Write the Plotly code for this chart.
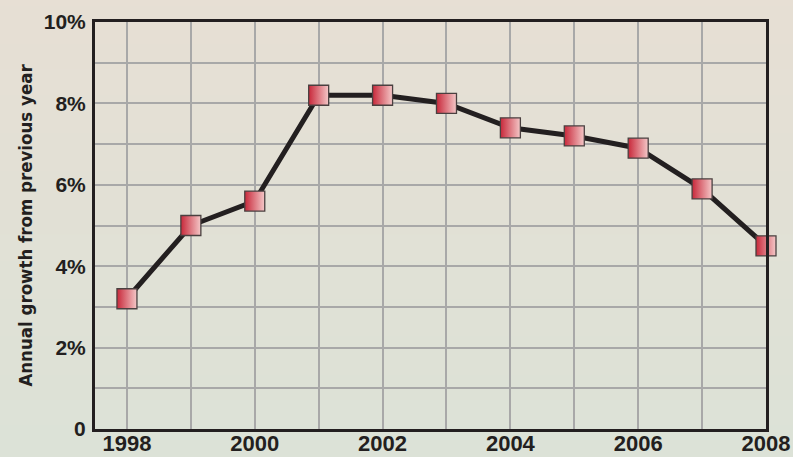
import plotly.graph_objects as go

years = [1998, 1999, 2000, 2001, 2002, 2003, 2004, 2005, 2006, 2007, 2008]
growth = [3.2, 5.0, 5.6, 8.2, 8.2, 8.0, 7.4, 7.2, 6.9, 5.9, 4.5]
y_tick_vals = [0, 1, 2, 3, 4, 5, 6, 7, 8, 9, 10]
y_tick_text = ["0", "", "2%", "", "4%", "", "6%", "", "8%", "", "10%"]
x_tick_vals = years
x_tick_text = ["1998", "", "2000", "", "2002", "", "2004", "", "2006", "", "2008"]

TICK_FONT = "Liberation Sans, Arial, sans-serif"
TITLE_FONT = "DejaVu Sans Condensed, Liberation Sans Narrow, sans-serif"

fig = go.Figure()
fig.add_trace(go.Scatter(
    x=years, y=growth, mode="lines+markers",
    line=dict(color="#231f20", width=5),
    marker=dict(symbol="square", size=20, color="#c8283a",
                gradient=dict(type="horizontal", color="#f4c8c8"),
                line=dict(color="#4a4040", width=1.3)),
    showlegend=False, hoverinfo="x+y", cliponaxis=False,
))

shapes = []
# background gradient bands
top = (231, 223, 212)
bot = (219, 226, 215)
n = 40
for i in range(n):
    t = i / (n - 1)
    c = tuple(round(top[k] + (bot[k] - top[k]) * t) for k in range(3))
    shapes.append(dict(type="rect", xref="paper", yref="paper",
                       x0=-1, x1=2, y0=1.1 - (i + 1) * 1.25 / n, y1=1.1 - i * 1.25 / n + 0.002,
                       fillcolor="rgb(%d,%d,%d)" % c, line=dict(width=0), layer="below"))

fig.update_layout(
    width=793, height=457, autosize=False,
    margin=dict(l=95, r=27, t=22, b=28),
    paper_bgcolor="rgb(224,226,214)",
    plot_bgcolor="rgba(0,0,0,0)",
    shapes=shapes,
    font=dict(family=TICK_FONT, color="#231f20"),
    xaxis=dict(range=[1997.5, 2008], tickvals=x_tick_vals, ticktext=x_tick_text,
               showgrid=True, gridcolor="#a8a8a8", gridwidth=2,
               showline=True, linecolor="#231f20", linewidth=3, mirror=True,
               ticks="", zeroline=False, ticklabelstandoff=-7, automargin=False,
               tickfont=dict(size=22, family=TICK_FONT, weight="bold")),
    yaxis=dict(range=[0, 10], tickvals=y_tick_vals, ticktext=y_tick_text,
               showgrid=True, gridcolor="#a8a8a8", gridwidth=2,
               showline=True, linecolor="#231f20", linewidth=3, mirror=True,
               ticks="", zeroline=False, ticklabelstandoff=2, automargin=False,
               tickfont=dict(size=21, family=TICK_FONT, weight="bold"),
               title=dict(text="Annual growth from previous year", standoff=7,
                          font=dict(size=18.5, family=TITLE_FONT, weight="bold"))),
)

fig.write_html(
    "out.html",
    config={"displayModeBar": False, "responsive": False},
    default_width="793px", default_height="457px",
    post_script="document.body.style.margin='0';document.body.style.padding='0';document.body.style.overflow='hidden';document.documentElement.style.overflow='hidden';",
)
